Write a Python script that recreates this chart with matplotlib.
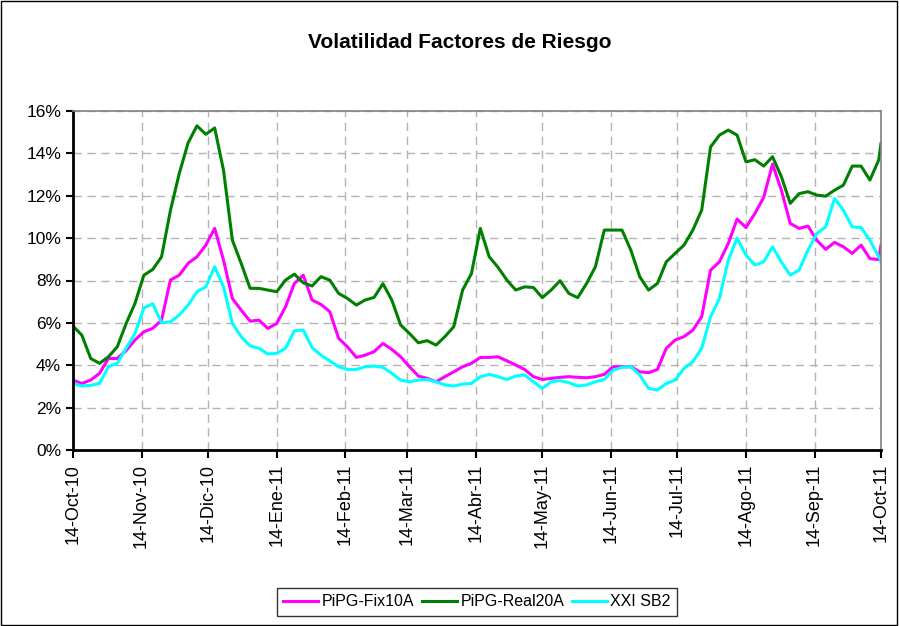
import matplotlib
matplotlib.use("Agg")
import matplotlib.pyplot as plt
import pandas as pd
from matplotlib.patches import Rectangle
from matplotlib.ticker import FuncFormatter

plt.rcParams['font.family'] = ['Liberation Sans', 'DejaVu Sans']

# Observation dates (every 4 days, plus the final day)
dates = list(pd.date_range('2010-10-14', periods=92, freq='4D')) + [pd.Timestamp('2011-10-14')]

fix10 = [3.30, 3.14, 3.30, 3.62, 4.32, 4.32, 4.69, 5.19, 5.58, 5.74, 6.13, 8.02, 8.25, 8.81, 9.12, 9.67,
         10.46, 8.96, 7.15, 6.60, 6.08, 6.13, 5.74, 5.97, 6.76, 7.86, 8.25, 7.08, 6.87, 6.53, 5.27,
         4.87, 4.37, 4.48, 4.64, 5.03, 4.75, 4.40, 3.93, 3.49, 3.38, 3.22, 3.46, 3.69, 3.93, 4.09,
         4.37, 4.37, 4.40, 4.21, 4.01, 3.80, 3.46, 3.33, 3.38, 3.43, 3.46, 3.43, 3.41, 3.46, 3.57, 3.93,
         3.93, 3.93, 3.69, 3.65, 3.80, 4.80, 5.19, 5.35, 5.66, 6.29, 8.49, 8.88, 9.75, 10.90, 10.50,
         11.16, 11.92, 13.49, 12.26, 10.69, 10.46, 10.57, 9.90, 9.47, 9.80, 9.59, 9.28, 9.67, 9.03, 8.99, 9.67]

real20 = [5.85, 5.42, 4.32, 4.09, 4.40, 4.87, 5.97, 6.92, 8.25, 8.52, 9.12, 11.30, 13.05, 14.50, 15.30, 14.90,
          15.20, 13.20, 9.90, 8.80, 7.63, 7.63, 7.55, 7.47, 8.02, 8.30, 7.89, 7.74, 8.18, 8.02, 7.39,
          7.15, 6.84, 7.08, 7.20, 7.85, 7.08, 5.90, 5.50, 5.06, 5.16, 4.95, 5.35, 5.82, 7.55, 8.33,
          10.46, 9.12, 8.62, 8.02, 7.55, 7.70, 7.67, 7.19, 7.55, 7.99, 7.39, 7.19, 7.86, 8.65, 10.38, 10.38,
          10.38, 9.43, 8.18, 7.55, 7.86, 8.88, 9.28, 9.67, 10.38, 11.32, 14.30, 14.86, 15.10, 14.86, 13.60,
          13.70, 13.40, 13.84, 12.90, 11.64, 12.10, 12.19, 12.03, 11.98, 12.26, 12.50, 13.40, 13.40, 12.74, 13.70, 14.47]

sb2 = [3.14, 3.02, 3.05, 3.14, 3.93, 4.09, 4.80, 5.50, 6.70, 6.90, 6.00, 6.05, 6.37, 6.84, 7.47, 7.70,
       8.65, 7.70, 5.97, 5.35, 4.91, 4.80, 4.53, 4.56, 4.80, 5.63, 5.66, 4.84, 4.48, 4.21, 3.93,
       3.80, 3.80, 3.93, 3.96, 3.90, 3.62, 3.30, 3.22, 3.30, 3.33, 3.22, 3.07, 3.02, 3.11, 3.14,
       3.46, 3.57, 3.46, 3.33, 3.49, 3.54, 3.22, 2.91, 3.22, 3.27, 3.18, 3.02, 3.07, 3.22, 3.33, 3.77,
       3.90, 3.93, 3.54, 2.91, 2.83, 3.14, 3.30, 3.85, 4.17, 4.80, 6.29, 7.15, 8.96, 10.00, 9.20,
       8.73, 8.88, 9.59, 8.88, 8.25, 8.49, 9.43, 10.22, 10.53, 11.87, 11.32, 10.53, 10.50, 9.90, 9.12, 8.88]

tick_dates = ['2010-10-14', '2010-11-14', '2010-12-14', '2011-01-14', '2011-02-14', '2011-03-14',
              '2011-04-14', '2011-05-14', '2011-06-14', '2011-07-14', '2011-08-14', '2011-09-14', '2011-10-14']
tick_labels = ['14-Oct-10', '14-Nov-10', '14-Dic-10', '14-Ene-11', '14-Feb-11', '14-Mar-11',
               '14-Abr-11', '14-May-11', '14-Jun-11', '14-Jul-11', '14-Ago-11', '14-Sep-11', '14-Oct-11']
y_ticks = [0, 2, 4, 6, 8, 10, 12, 14, 16]

fig = plt.figure(figsize=(8.99, 6.26), dpi=100)
ax = fig.add_axes([73/899, 1-450/626, (881-73)/899, (450-111)/626])

ax.plot(dates, fix10, color='#FF00FF', lw=2.2, label='PiPG-Fix10A')
ax.plot(dates, real20, color='#008000', lw=2.2, label='PiPG-Real20A')
ax.plot(dates, sb2, color='#00FFFF', lw=2.2, label='XXI SB2')

ax.set_xlim(pd.Timestamp('2010-10-14'), pd.Timestamp('2011-10-14'))
ax.set_ylim(0, 16)
ax.set_yticks(y_ticks)
ax.yaxis.set_major_formatter(FuncFormatter(lambda v, p: f"{int(v)}%"))
ax.set_xticks([pd.Timestamp(d) for d in tick_dates])
ax.set_xticklabels(tick_labels, rotation=90, fontsize=13)
ax.tick_params(axis='y', labelsize=12.5, length=5, width=1.5, direction='out')
ax.tick_params(axis='x', length=6, width=1.5, direction='out', pad=4)

ax.grid(True, color='#b3b3b3', linestyle=(0, (6, 4)), linewidth=1)
ax.set_axisbelow(True)
for s in ['left', 'bottom']:
    ax.spines[s].set_linewidth(2)
    ax.spines[s].set_color('black')
for s in ['top', 'right']:
    ax.spines[s].set_linewidth(1.2)
    ax.spines[s].set_color('#808080')

fig.text(460/899, 1-43/626, 'Volatilidad Factores de Riesgo', ha='center', va='center',
         fontsize=15, fontweight='bold')

leg = fig.legend(loc='center', bbox_to_anchor=(477/899, 1-602/626), ncol=3, fontsize=11.5,
                 frameon=True, fancybox=False, edgecolor='black', handlelength=2.2,
                 handletextpad=0.2, columnspacing=0.5, borderpad=0.4)
leg.get_frame().set_linewidth(1)

fig.patches.append(Rectangle((0.001, 0.002), 0.997, 0.996, transform=fig.transFigure,
                             fill=False, edgecolor='black', linewidth=1))

fig.savefig('out.png', dpi=100)
